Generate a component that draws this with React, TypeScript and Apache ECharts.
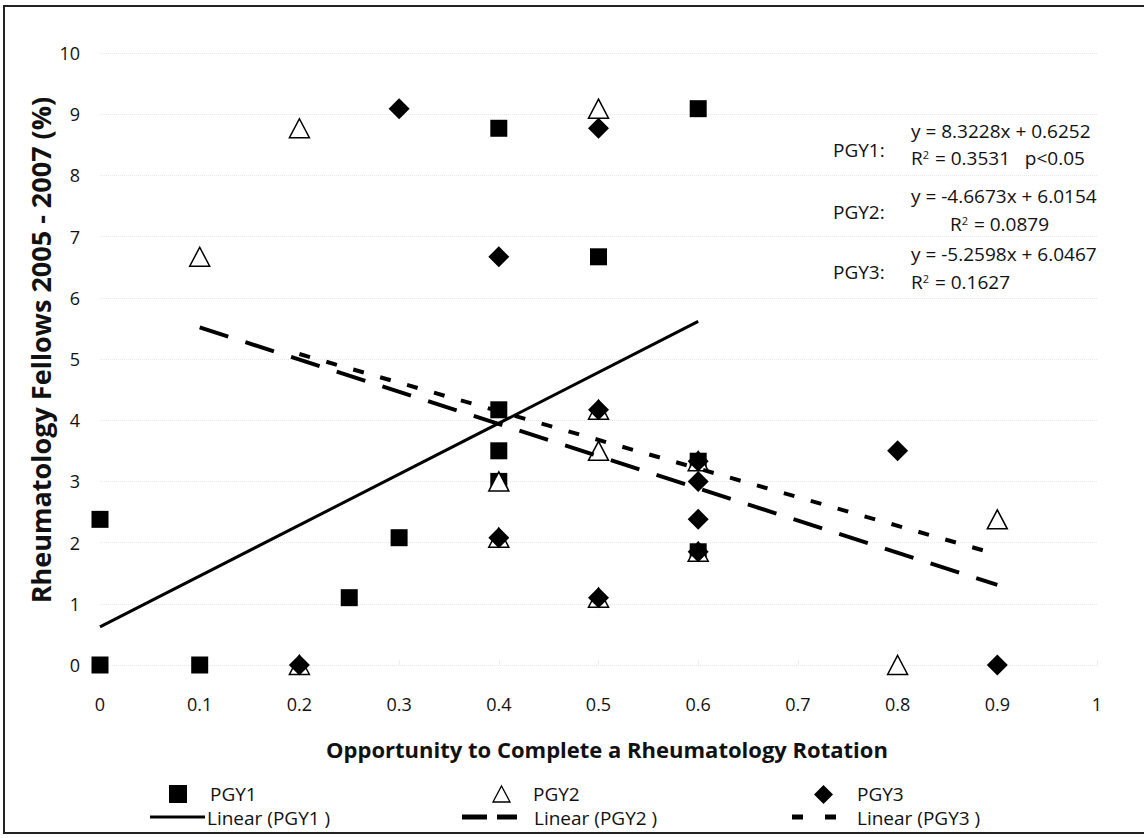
import React, { useEffect, useRef } from "react";
import * as echarts from "echarts";

// Data (x = opportunity, y = % fellows)
const pgy1: number[][] = [
  [0, 0], [0, 2.38], [0.1, 0], [0.25, 1.1], [0.3, 2.08], [0.4, 8.77], [0.4, 4.17],
  [0.4, 3.5], [0.4, 3.0], [0.5, 6.67], [0.6, 9.09], [0.6, 3.33], [0.6, 1.85],
];
const pgy2: number[][] = [
  [0.1, 6.67], [0.2, 8.77], [0.2, 0], [0.4, 3.0], [0.4, 2.08], [0.5, 9.09], [0.5, 4.17],
  [0.5, 3.5], [0.5, 1.1], [0.6, 3.33], [0.6, 1.85], [0.8, 0], [0.9, 2.38],
];
const pgy3: number[][] = [
  [0.2, 0], [0.3, 9.09], [0.4, 6.67], [0.4, 2.08], [0.5, 8.77], [0.5, 4.17], [0.5, 1.1],
  [0.6, 3.33], [0.6, 3.0], [0.6, 2.38], [0.6, 1.85], [0.8, 3.5], [0.9, 0],
];
const seriesNames = ["PGY1", "PGY2", "PGY3"];
const trendNames = ["Linear (PGY1 )", "Linear (PGY2 )", "Linear (PGY3 )"];
const annotLabels = ["PGY1:", "PGY2:", "PGY3:"];
const annotEquations = ["y = 8.3228x + 0.6252", "y = -4.6673x + 6.0154", "y = -5.2598x + 6.0467"];
const annotR2 = ["0.3531", "0.0879", "0.1627"];
const xTitle = "Opportunity to Complete a Rheumatology Rotation";
const yTitle = "Rheumatology Fellows 2005 - 2007 (%)";

function linearFit(pts: number[][]): number[][] {
  const n = pts.length;
  let sx = 0, sy = 0, sxx = 0, sxy = 0;
  let xmin = Infinity, xmax = -Infinity;
  for (const [x, y] of pts) {
    sx += x; sy += y; sxx += x * x; sxy += x * y;
    xmin = Math.min(xmin, x); xmax = Math.max(xmax, x);
  }
  const slope = (n * sxy - sx * sy) / (n * sxx - sx * sx);
  const icpt = (sy - slope * sx) / n;
  return [[xmin, slope * xmin + icpt], [xmax, slope * xmax + icpt]];
}

const FONT = "'Open Sans', 'Noto Sans', sans-serif";

export default function App() {
  const ref = useRef<HTMLDivElement>(null);
  useEffect(() => {
    document.body.style.margin = "0";
    if (!ref.current) return;
    const chart = echarts.init(ref.current, null, { renderer: "svg" });

    const scatterBase = (name: string, data: number[][], symbol: string, size: any, fill: string, z: number) => ({
      name, type: "scatter", data, symbol, symbolSize: size, z,
      itemStyle: { color: fill, borderColor: "#000", borderWidth: fill === "#fff" ? 1.5 : 0, opacity: 1 },
      emphasis: { disabled: true },
    });
    const lineBase = (name: string, data: number[][], type: any, width: number) => ({
      name, type: "line", data, showSymbol: false, symbol: "none", z: 5,
      lineStyle: { color: "#000", width, type, cap: "butt" },
      emphasis: { disabled: true },
    });

    const legendText = (x: number, y: number, t: string) => ({
      type: "text", x, y,
      style: { text: t, fontFamily: FONT, fontSize: 19, lineHeight: 19, fill: "#111", textVerticalAlign: "middle" },
    });
    const annotText = (x: number, y: number, t: string, rich = false) => ({
      type: "text", x, y,
      style: rich
        ? { text: t, fontFamily: FONT, fontSize: 19, lineHeight: 19, fill: "#111", textVerticalAlign: "middle",
            rich: { sup: { fontSize: 11, fontFamily: FONT, verticalAlign: "top", padding: [0, 1, 10, 0] } } }
        : { text: t, fontFamily: FONT, fontSize: 19, lineHeight: 19, fill: "#111", textVerticalAlign: "middle" },
    });

    const option: any = {
      animation: false,
      backgroundColor: "#fff",
      grid: { left: 100, right: 47, top: 53, bottom: 173, containLabel: false },
      xAxis: {
        type: "value", min: 0, max: 1, interval: 0.1,
        axisLine: { show: false },
        axisTick: { show: true, lineStyle: { color: "#eee" }, length: 5, inside: true },
        splitLine: { show: false },
        axisLabel: { fontFamily: FONT, fontSize: 18, color: "#111", margin: 30,
          formatter: (v: number) => String(Math.round(v * 10) / 10) },
      },
      yAxis: {
        type: "value", min: 0, max: 10, interval: 1,
        axisLine: { show: false }, axisTick: { show: false },
        splitLine: { show: true, lineStyle: { color: "#e8e8e8", type: "dotted", width: 1 } },
        axisLabel: { fontFamily: FONT, fontSize: 18, color: "#111", margin: 20 },
      },
      series: [
        scatterBase(seriesNames[0], pgy1, "rect", 17, "#000", 2),
        scatterBase(seriesNames[1], pgy2, "triangle", [20, 19], "#fff", 3),
        scatterBase(seriesNames[2], pgy3, "diamond", [21, 21], "#000", 4),
        lineBase(trendNames[0], linearFit(pgy1), "solid", 3),
        lineBase(trendNames[1], linearFit(pgy2), [30, 18], 4),
        lineBase(trendNames[2], linearFit(pgy3), [11, 17], 4),
      ],
      graphic: [
        { type: "rect", shape: { x: 4, y: 6, width: 1150, height: 827 }, style: { fill: "none", stroke: "#222", lineWidth: 2 }, z: 100 },
        // axis titles
        { type: "text", x: 40, y: 350, rotation: Math.PI / 2,
          style: { text: yTitle, fontFamily: FONT, fontWeight: "bold", fontSize: 27, fill: "#111", textAlign: "center", textVerticalAlign: "middle" } },
        { type: "text", x: 607, y: 749,
          style: { text: xTitle, fontFamily: FONT, fontWeight: "bold", fontSize: 22, fill: "#111", textAlign: "center", textVerticalAlign: "middle" } },
        // legend row 1
        { type: "rect", shape: { x: 169, y: 785, width: 18, height: 18 }, style: { fill: "#000" } },
        legendText(210, 794, seriesNames[0]),
        { type: "polygon", shape: { points: [[501.5, 786], [510, 802], [493, 802]] }, style: { fill: "#fff", stroke: "#000", lineWidth: 1.3 } },
        legendText(533, 794, seriesNames[1]),
        { type: "polygon", shape: { points: [[823.5, 785], [833, 794.5], [823.5, 804], [814, 794.5]] }, style: { fill: "#000" } },
        legendText(857, 794, seriesNames[2]),
        // legend row 2
        { type: "line", shape: { x1: 150, y1: 817, x2: 205, y2: 817 }, style: { stroke: "#000", lineWidth: 3 } },
        legendText(207, 818, trendNames[0]),
        { type: "line", shape: { x1: 462, y1: 817, x2: 517, y2: 817 }, style: { stroke: "#000", lineWidth: 5, lineDash: [25, 10] } },
        legendText(534, 818, trendNames[1]),
        { type: "line", shape: { x1: 792, y1: 817, x2: 840, y2: 817 }, style: { stroke: "#000", lineWidth: 5, lineDash: [11, 22] } },
        legendText(857, 818, trendNames[2]),
        // annotations
        annotText(833, 150, annotLabels[0]),
        annotText(911, 131, annotEquations[0]),
        annotText(911, 158, `R{sup|2} = ${annotR2[0]}   p<0.05`, true),
        annotText(833, 212, annotLabels[1]),
        annotText(911, 196, annotEquations[1]),
        annotText(950, 224, `R{sup|2} = ${annotR2[1]}`, true),
        annotText(833, 272, annotLabels[2]),
        annotText(911, 254, annotEquations[2]),
        annotText(911, 282, `R{sup|2} = ${annotR2[2]}`, true),
      ],
    };
    chart.setOption(option);
    return () => chart.dispose();
  }, []);
  return <div ref={ref} style={{ width: 1144, height: 838 }} />;
}
